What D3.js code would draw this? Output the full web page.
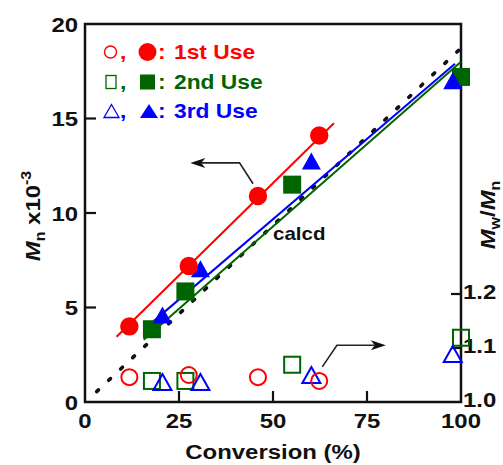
<!DOCTYPE html>
<html>
<head>
<meta charset="utf-8">
<script src="https://cdn.jsdelivr.net/npm/d3@7"></script>
<style>
  html, body { margin: 0; padding: 0; background: #fff; }
  svg text { font-family: "Liberation Sans", Arial, Helvetica, sans-serif; font-weight: bold; }
</style>
</head>
<body>
<svg id="chart" width="503" height="465"></svg>
<script>
// ---- data ----
const xTicks = [0, 25, 50, 75, 100];
const mnTicks = [0, 5, 10, 15, 20];
const pdiTicks = [1.0, 1.1, 1.2];

// 1st use
const conv1 = [11.8, 27.6, 46.0, 62.3];
const mn1   = [4.0, 7.2, 10.9, 14.1];
const pdi1  = [1.046, 1.050, 1.046, 1.039];
// 2nd use
const conv2 = [17.8, 26.7, 55.1, 100];
const mn2   = [3.85, 5.85, 11.5, 17.2];
const pdi2  = [1.039, 1.039, 1.069, 1.119];
// 3rd use
const conv3 = [20.6, 30.7, 60.2, 97.8];
const mn3   = [4.6, 7.05, 12.75, 17.0];
const pdi3  = [1.037, 1.037, 1.050, 1.089];

// linear fits (endpoints, conversion / Mn)
const fit1X = [8.4, 66.2],  fit1Y = [3.45, 14.75];
const fit2X = [15.6, 100],  fit2Y = [3.3, 18.0];
const fit3X = [17.8, 98.4], fit3Y = [4.2, 17.9];
// theoretical Mn
const calcdX = [3.1, 100.4], calcdY = [0.55, 18.8];

// annotation arrows (conversion / Mn units)
const arrowLeftX  = [44.7, 41.1, 28.0],  arrowLeftY  = [11.55, 12.65, 12.65];
const arrowRightX = [63.1, 67.0, 80.0],  arrowRightY = [1.86, 3.0, 3.0];

const legendLabels = ["1st Use", "2nd Use", "3rd Use"];
const RED = "#ff0000", GREEN = "#006400", BLUE = "#0000ff";

// ---- layout ----
const svg = d3.select("#chart");
const plotL = 85, plotR = 461, plotT = 24, plotB = 402;
const SX = 1.14; // horizontal text stretch

const x = d3.scaleLinear().domain([0, 100]).range([plotL, plotR]);
const y = d3.scaleLinear().domain([0, 20]).range([plotB, plotT]);
const y2 = d3.scaleLinear().domain([1.0, 1.7]).range([plotB, plotT]);

function txt(g, px, py, s, size, anchor, color) {
  return g.append("text")
    .attr("transform", `translate(${px},${py}) scale(${SX},1)`)
    .attr("text-anchor", anchor || "start")
    .attr("font-size", size)
    .attr("fill", color || "#111")
    .text(s);
}

// ---- frame ----
svg.append("rect").attr("x", plotL).attr("y", plotT)
  .attr("width", plotR - plotL).attr("height", plotB - plotT)
  .attr("fill", "none").attr("stroke", "#111").attr("stroke-width", 2.5);

// ticks (inward)
const tickG = svg.append("g").attr("stroke", "#111").attr("stroke-width", 2.2);
xTicks.slice(1, -1).forEach(t => tickG.append("line")
  .attr("x1", x(t)).attr("x2", x(t)).attr("y1", plotB).attr("y2", plotB - 11));
mnTicks.slice(1, -1).forEach(t => tickG.append("line")
  .attr("x1", plotL).attr("x2", plotL + 11).attr("y1", y(t)).attr("y2", y(t)));
pdiTicks.slice(1).forEach(t => tickG.append("line")
  .attr("x1", plotR).attr("x2", plotR - 10).attr("y1", y2(t)).attr("y2", y2(t)));

// tick labels
const lab = svg.append("g");
xTicks.forEach(t => txt(lab, x(t), 428, String(t), 21, "middle"));
mnTicks.forEach(t => txt(lab, 78, y(t) + 7.5, String(t), 21, "end"));
pdiTicks.forEach(t => txt(lab, 463, y2(t) + 5, t.toFixed(1), 21, "start"));

// axis titles
txt(lab, 273, 459, "Conversion (%)", 21, "middle");

const yt = svg.append("text")
  .attr("transform", `translate(40,216) rotate(-90) scale(${SX},1)`)
  .attr("text-anchor", "middle").attr("font-size", 21).attr("fill", "#111");
yt.append("tspan").attr("font-style", "italic").text("M");
yt.append("tspan").attr("font-size", 14).attr("dy", 5).text("n");
yt.append("tspan").attr("dy", -5).text(" x10");
yt.append("tspan").attr("font-size", 14).attr("dy", -9).text("-3");

const rt = svg.append("text")
  .attr("transform", `translate(495,215) rotate(-90) scale(${SX},1)`)
  .attr("text-anchor", "middle").attr("font-size", 21).attr("fill", "#111");
rt.append("tspan").attr("font-style", "italic").text("M");
rt.append("tspan").attr("font-size", 14).attr("dy", 5).text("w");
rt.append("tspan").attr("dy", -5).text("/");
rt.append("tspan").attr("font-style", "italic").text("M");
rt.append("tspan").attr("font-size", 14).attr("dy", 5).text("n");

// ---- lines ----
const line = d3.line().x(d => x(d[0])).y(d => y(d[1]));
const zip = (a, b) => a.map((v, i) => [v, b[i]]);

svg.append("path").datum(zip(calcdX, calcdY)).attr("d", line)
  .attr("fill", "none").attr("stroke", "#111").attr("stroke-width", 3.6)
  .attr("stroke-linecap", "round").attr("stroke-dasharray", "2.5 14");
svg.append("path").datum(zip(fit2X, fit2Y)).attr("d", line)
  .attr("fill", "none").attr("stroke", GREEN).attr("stroke-width", 2);
svg.append("path").datum(zip(fit3X, fit3Y)).attr("d", line)
  .attr("fill", "none").attr("stroke", BLUE).attr("stroke-width", 2);
svg.append("path").datum(zip(fit1X, fit1Y)).attr("d", line)
  .attr("fill", "none").attr("stroke", RED).attr("stroke-width", 2);

txt(svg, 273, 240, "calcd", 18, "start");

// ---- arrows ----
function arrow(xs, ys) {
  const pts = zip(xs, ys).map(d => [x(d[0]), y(d[1])]);
  const n = pts.length;
  const [tx, ty] = pts[n - 1], [px, py] = pts[n - 2];
  const ang = Math.atan2(ty - py, tx - px);
  const L = 15, W = 5, N = 4;
  const base = [tx - L * Math.cos(ang), ty - L * Math.sin(ang)];
  const notch = [tx - (L - N) * Math.cos(ang), ty - (L - N) * Math.sin(ang)];
  const nx = -Math.sin(ang), ny = Math.cos(ang);
  svg.append("path")
    .attr("d", d3.line()(pts.slice(0, n - 1).concat([notch])))
    .attr("fill", "none").attr("stroke", "#222").attr("stroke-width", 1.6);
  svg.append("path")
    .attr("d", `M${tx},${ty}L${base[0] + nx * W},${base[1] + ny * W}L${notch[0]},${notch[1]}L${base[0] - nx * W},${base[1] - ny * W}Z`)
    .attr("fill", "#111");
}
arrow(arrowLeftX, arrowLeftY);
arrow(arrowRightX, arrowRightY);

// ---- markers ----
function triPath(cx, cy, w, h) {
  return `M${cx},${cy - h / 2}L${cx + w / 2},${cy + h / 2}L${cx - w / 2},${cy + h / 2}Z`;
}
const mk = svg.append("g");

// Mw/Mn (open symbols, right axis)
conv2.forEach((c, i) => mk.append("rect")
  .attr("x", x(c) - 8).attr("y", y2(pdi2[i]) - 8).attr("width", 16).attr("height", 16)
  .attr("fill", "none").attr("stroke", GREEN).attr("stroke-width", 2));
conv3.forEach((c, i) => mk.append("path")
  .attr("d", triPath(x(c), y2(pdi3[i]), 18, 16))
  .attr("fill", "none").attr("stroke", BLUE).attr("stroke-width", 2));
conv1.forEach((c, i) => mk.append("circle")
  .attr("cx", x(c)).attr("cy", y2(pdi1[i])).attr("r", 8)
  .attr("fill", "none").attr("stroke", RED).attr("stroke-width", 2));

// Mn (filled symbols, left axis)
conv2.forEach((c, i) => mk.append("rect")
  .attr("x", x(c) - 9).attr("y", y(mn2[i]) - 9).attr("width", 18).attr("height", 18)
  .attr("fill", GREEN));
conv3.forEach((c, i) => mk.append("path")
  .attr("d", triPath(x(c), y(mn3[i]), 19, 17)).attr("fill", BLUE));
conv1.forEach((c, i) => mk.append("circle")
  .attr("cx", x(c)).attr("cy", y(mn1[i])).attr("r", 9.2).attr("fill", RED));

// ---- legend ----
const lg = svg.append("g");
const rowY = [52, 82, 111];
const colors = [RED, GREEN, BLUE];
// open symbols
lg.append("circle").attr("cx", 110.5).attr("cy", rowY[0]).attr("r", 6)
  .attr("fill", "none").attr("stroke", RED).attr("stroke-width", 1.4);
lg.append("rect").attr("x", 106).attr("y", rowY[1] - 6.5).attr("width", 10).attr("height", 13)
  .attr("fill", "none").attr("stroke", GREEN).attr("stroke-width", 1.3);
lg.append("path").attr("d", triPath(111.5, rowY[2], 15, 13))
  .attr("fill", "none").attr("stroke", BLUE).attr("stroke-width", 1.3);
// filled symbols
lg.append("circle").attr("cx", 147.5).attr("cy", rowY[0]).attr("r", 9).attr("fill", RED);
lg.append("rect").attr("x", 140).attr("y", rowY[1] - 7.5).attr("width", 15).attr("height", 15).attr("fill", GREEN);
lg.append("path").attr("d", triPath(149, rowY[2], 18, 14)).attr("fill", BLUE);
legendLabels.forEach((s, i) => {
  txt(lg, 120, rowY[i] + 7, ",", 20, "start", colors[i]);
  txt(lg, 158, rowY[i] + 7, ":", 20, "start", colors[i]);
  txt(lg, 174, rowY[i] + 7, s, 20, "start", colors[i]);
});
</script>
</body>
</html>
